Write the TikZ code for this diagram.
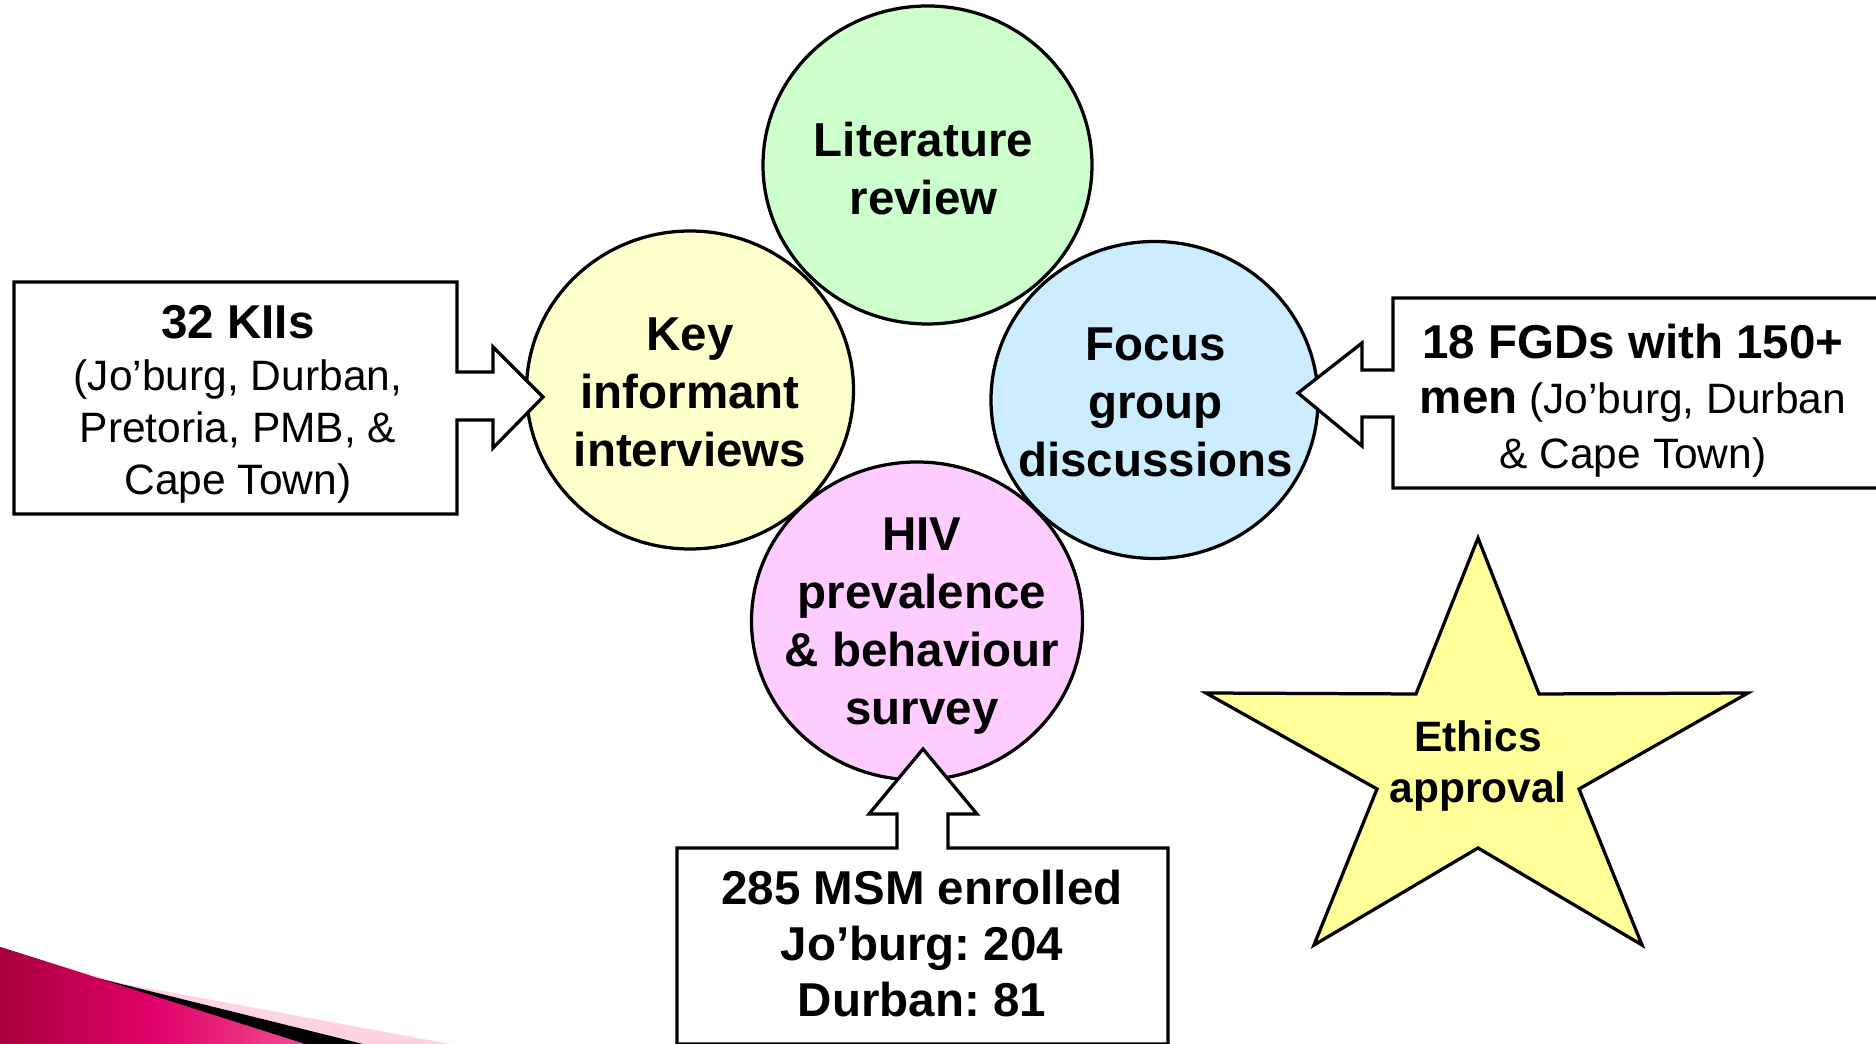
\documentclass[tikz,border=0pt]{standalone}
\usepackage{fontspec}
\setmainfont{Liberation Sans}
\frenchspacing
\usetikzlibrary{shapes.geometric}
\definecolor{litgreen}{HTML}{CCFFCC}
\definecolor{keyyellow}{HTML}{FFFFCC}
\definecolor{focusblue}{HTML}{CCECFF}
\definecolor{hivpink}{HTML}{FFCCFF}
\definecolor{staryellow}{HTML}{FFFF99}
\definecolor{swdark}{HTML}{A8003C}
\definecolor{swmid}{HTML}{E0006A}
\definecolor{swlight}{HTML}{F24C92}
\definecolor{swpale}{HTML}{FFD3E3}
\tikzset{
  blob/.style={ellipse, draw=black, line width=1.3pt, inner sep=0pt},
  circtext/.style={font=\bfseries\fontsize{19}{23.2}\selectfont, align=center, inner sep=0pt},
  boxline/.style={draw=black, fill=white, line width=1.3pt, line join=miter},
  starline/.style={draw=black, fill=staryellow, line width=1.3pt, line join=miter},
}
\begin{document}
\begin{tikzpicture}[x=0.4pt,y=-0.4pt]
\useasboundingbox (0,0) rectangle (1876,1044);
\clip (0,0) rectangle (1876,1044);
% decorative swoosh bottom-left
\fill[swpale] (0,947) -- (120,983) -- (450,1044) -- (0,1044) -- cycle;
\fill[black] (0,947) -- (97,978) -- (363,1044) -- (0,1044) -- cycle;
\shade[left color=swdark, right color=swlight, middle color=swmid] (0,947) -- (305,1044) -- (0,1044) -- cycle;
% circles
\node[blob, fill=keyyellow, minimum width=130.8pt, minimum height=127.2pt] (key) at (690,390) {};
\node[blob, fill=focusblue, minimum width=130.8pt, minimum height=126.8pt] (focus) at (1154.5,400) {};
\node[blob, fill=litgreen, minimum width=131.6pt, minimum height=127.2pt] (lit) at (927.5,165) {};
\node[blob, fill=hivpink, minimum width=132.4pt, minimum height=127.2pt] (hiv) at (917,621) {};
\node[circtext] (littext) at ([shift={(-4,4)}]lit.center) {Literature\\review};
\node[circtext] (keytext) at ([shift={(0,2)}]key.center) {Key\\informant\\interviews};
\node[circtext] (focustext) at ([shift={(1,2)}]focus.center) {Focus\\group\\discussions};
\node[circtext] (hivtext) at ([shift={(5,5)}]hiv.center) {HIV\\prevalence\\\& behaviour\\survey};
% boxes with block arrows
\draw[boxline] (14,282) -- (457,282) -- (457,372) -- (493,372) -- (493,347) -- (543,397) -- (493,448) -- (493,420) -- (457,420) -- (457,514) -- (14,514) -- cycle;
\draw[boxline] (1900,298) -- (1393,298) -- (1393,370) -- (1362,370) -- (1362,343) -- (1298,393) -- (1362,446) -- (1362,417) -- (1393,417) -- (1393,488) -- (1900,488) -- cycle;
\draw[boxline] (677,1044) -- (677,848) -- (897,848) -- (897,814) -- (869,814) -- (923,749) -- (977,814) -- (948,814) -- (948,848) -- (1168,848) -- (1168,1044) -- cycle;
\node[font=\fontsize{17}{20.8}\selectfont, align=center, inner sep=0pt] (kii) at (238,404)
  {{\bfseries\fontsize{19}{20.8}\selectfont 32 KIIs}\\(Jo’burg, Durban,\\Pretoria, PMB, \&\\Cape Town)};
\node[font=\fontsize{17}{22}\selectfont, align=center, inner sep=0pt] (fgd) at (1633,401)
  {{\bfseries\fontsize{19}{22}\selectfont 18 FGDs with 150+}\\{\bfseries\fontsize{19}{22}\selectfont men} (Jo’burg, Durban\\\& Cape Town)};
\node[font=\bfseries\fontsize{19}{22.4}\selectfont, align=center, inner sep=0pt] (msm) at (922,944)
  {285 MSM enrolled\\Jo’burg: 204\\Durban: 81};
% star
\draw[starline] (1478,538) -- (1539,694) -- (1748,693) -- (1579,789) -- (1642,945) -- (1478,848) -- (1314,945) -- (1377,789) -- (1206,693) -- (1416,694) -- cycle;
\node[font=\bfseries\fontsize{17}{20.4}\selectfont, align=center, inner sep=0pt] (eth) at (1478,766) {Ethics\\approval};
\end{tikzpicture}
\end{document}
